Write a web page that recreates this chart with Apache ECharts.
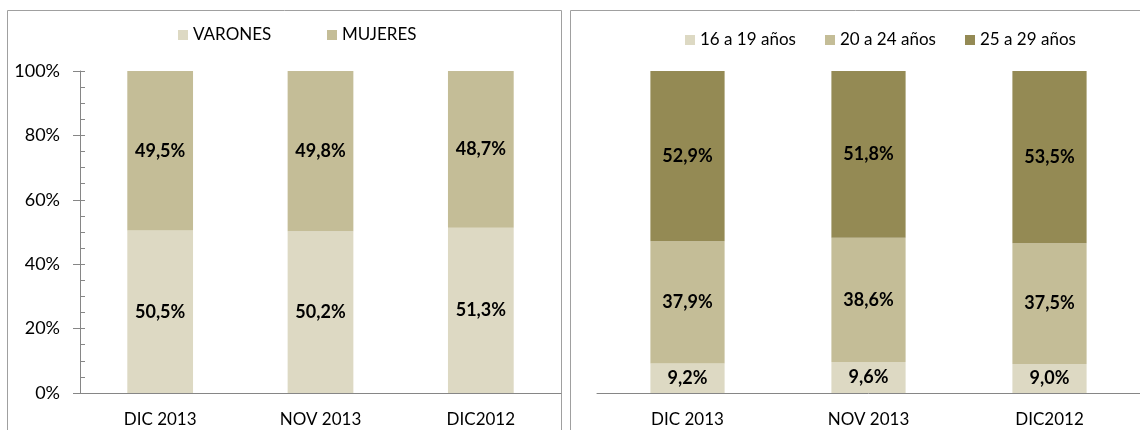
<!DOCTYPE html>
<html>
<head>
<meta charset="utf-8">
<script src="https://cdn.jsdelivr.net/npm/echarts@6/dist/echarts.min.js"></script>
<style>
html,body{margin:0;padding:0;background:#fff;}
#c{width:1140px;height:430px;}
</style>
</head>
<body>
<div id="c"></div>
<script>
const categories = ['DIC 2013', 'NOV 2013', 'DIC2012'];
const sexNames = ['VARONES', 'MUJERES'];
const varones = [50.5, 50.2, 51.3];
const mujeres = [49.5, 49.8, 48.7];
const ageNames = ['16 a 19 años', '20 a 24 años', '25 a 29 años'];
const edad16 = [9.2, 9.6, 9.0];
const edad20 = [37.9, 38.6, 37.5];
const edad25 = [52.9, 51.8, 53.5];

const FONT = 'Lato';
const C1 = '#DDD9C3', C2 = '#C4BD97', C3 = '#948A54';
const AX = '#868686';

const fmt = p => p.value.toFixed(1).replace('.', ',') + '%';
const lbl = { show: true, position: 'inside', formatter: fmt, color: '#000', fontWeight: 'bold', fontSize: 18, fontFamily: FONT };

function bar(name, data, color, axisIdx) {
  return {
    name: name, type: 'bar', stack: 's' + axisIdx, data: data,
    xAxisIndex: axisIdx, yAxisIndex: axisIdx === 0 ? 0 : 2,
    barCategoryGap: '59%', itemStyle: { color: color }, label: lbl,
    emphasis: { disabled: true }
  };
}

function legend(name, left, top) {
  return {
    data: [name], left: left, top: top, itemWidth: 10, itemHeight: 10, icon: 'rect',
    selectedMode: false, padding: 0,
    textStyle: { fontFamily: FONT, fontSize: 17, color: '#000', lineHeight: 20 }
  };
}

const chart = echarts.init(document.getElementById('c'), null, { renderer: 'canvas' });
chart.setOption({
  animation: false,
  backgroundColor: '#fff',
  grid: [
    { left: 80, top: 71, width: 481, height: 322 },
    { left: 597, top: 71, width: 543, height: 322 }
  ],
  legend: [
    legend(sexNames[0], 178, 25),
    legend(sexNames[1], 327, 25),
    legend(ageNames[0], 685, 30),
    legend(ageNames[1], 825, 30),
    legend(ageNames[2], 965, 30)
  ],
  xAxis: [0, 1].map(i => ({
    type: 'category', gridIndex: i, data: categories,
    axisLine: { lineStyle: { color: AX } },
    axisTick: { length: 7, lineStyle: { color: AX } },
    axisLabel: { fontFamily: FONT, fontSize: 17, color: '#000', margin: 18 }
  })),
  yAxis: [
    { type: 'value', gridIndex: 0, min: 0, max: 100, interval: 20,
      axisLine: { show: true, lineStyle: { color: AX } },
      axisTick: { show: true, length: 7, lineStyle: { color: AX } },
      axisLabel: { formatter: '{value}%', fontFamily: FONT, fontSize: 18, color: '#000', margin: 20 },
      splitLine: { show: false } },
    { type: 'value', gridIndex: 0, min: 0, max: 100, interval: 5, position: 'left',
      axisLine: { show: false },
      axisTick: { show: true, inside: true, length: 5, lineStyle: { color: AX } },
      axisLabel: { show: false }, splitLine: { show: false } },
    { type: 'value', gridIndex: 1, min: 0, max: 100, interval: 20,
      axisLine: { show: false }, axisTick: { show: false },
      axisLabel: { show: false }, splitLine: { show: false } }
  ],
  series: [
    bar(sexNames[0], varones, C1, 0),
    bar(sexNames[1], mujeres, C2, 0),
    bar(ageNames[0], edad16, C1, 1),
    bar(ageNames[1], edad20, C2, 1),
    bar(ageNames[2], edad25, C3, 1)
  ],
  graphic: [
    { type: 'rect', shape: { x: 7.5, y: 10.5, width: 554, height: 440 }, style: { fill: 'none', stroke: '#A0A0A0', lineWidth: 1 }, silent: true },
    { type: 'rect', shape: { x: 570.5, y: 10.5, width: 620, height: 440 }, style: { fill: 'none', stroke: '#A0A0A0', lineWidth: 1 }, silent: true }
  ]
});
</script>
</body>
</html>
